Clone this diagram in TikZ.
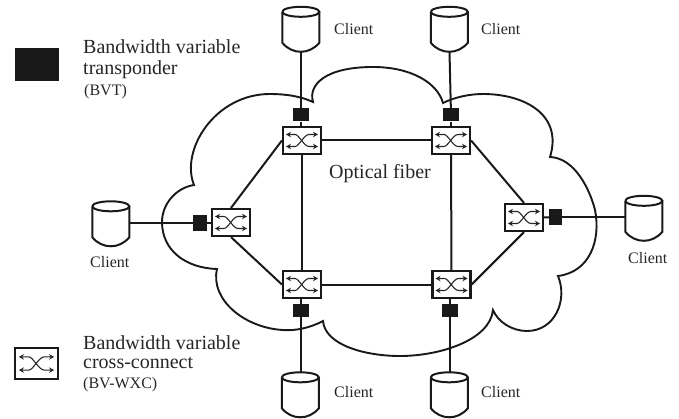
\documentclass[tikz,border=0pt]{standalone}
\usepackage{fontspec}
\setmainfont{Liberation Serif}
\usetikzlibrary{arrows.meta}
\tikzset{
  netline/.style={line width=2pt,black!90},
  cloudline/.style={line width=1.9pt,black!90},
  wxcbox/.style={draw=black!90,fill=white,line width=2.2pt,minimum width=38pt,minimum height=27pt,inner sep=0pt},
  keybox/.style={wxcbox,minimum width=43pt,minimum height=31pt},
  bvtbox/.style={fill=black!90,inner sep=0pt},
  clientbody/.style={inner sep=0pt,minimum width=37pt,minimum height=45pt},
  biglabel/.style={anchor=base west,inner sep=0pt,font=\fontsize{20}{24}\selectfont,black!85},
  smalllabel/.style={anchor=base west,inner sep=0pt,font=\fontsize{16}{19}\selectfont,black!85},
  glyphline/.style={line width=1.1pt,black!85,{Stealth[length=5pt,width=5.5pt]}-{Stealth[length=5pt,width=5.5pt]}}
}
\newcommand{\wxcglyph}[2]{
  \begin{scope}[shift={(#1.center)},scale=#2]
    \draw[glyphline] (-16,-6) -- (-7,-6) .. controls (-3,-6) and (2,6) .. (7,6) -- (16,6);
    \draw[glyphline] (-16,6) -- (-7,6) .. controls (-3,6) and (2,-6) .. (7,-6) -- (16,-6);
  \end{scope}
}
\begin{document}
\begin{tikzpicture}[x=1pt,y=-1pt]
\useasboundingbox (0,0) rectangle (679,419);
%cloud
\draw[cloudline] (194,185) .. controls (180,150) and (215,94) .. (270,94)
  .. controls (285,94) and (300,96) .. (313,102)
  .. controls (308,85) and (325,67) .. (373,67)
  .. controls (410,67) and (437,82) .. (443,103)
  .. controls (455,97) and (470,94) .. (483,94)
  .. controls (525,94) and (563,115) .. (550,157)
  .. controls (575,158) and (590,190) .. (595,210)
  .. controls (601,240) and (590,272) .. (558,276)
  .. controls (568,300) and (555,331) .. (527,331)
  .. controls (512,331) and (498,322) .. (493,310)
  .. controls (490,340) and (440,356) .. (400,356)
  .. controls (365,356) and (325,345) .. (323,321)
  .. controls (310,328) and (295,331) .. (283,330)
  .. controls (245,328) and (210,300) .. (217,269)
  .. controls (185,268) and (162,250) .. (162,222)
  .. controls (162,205) and (175,188) .. (194,185) -- cycle;
%switches
\foreach \n/\x/\y in {swTL/302/140.5,swTR/451/140.5,swL/231/222.5,swR/524/217.5,swBL/302/284.5,swBR/451.5/284.5}{
  \node[wxcbox] (\n) at (\x,\y) {};
}
\node[keybox] (swKey) at (36.5,363.5) {};
%transponders
\foreach \n/\x/\y/\w/\h in {bvtTL/301/115/16/13,bvtTR/451/115/16/13,bvtL/200/223/14/16,bvtR/555.5/217/13/16,bvtBL/301/310.5/16/13,bvtBR/449.5/310.5/16/13,bvtKey/37/64.5/44/33}{
  \node[bvtbox,minimum width=\w pt,minimum height=\h pt] (\n) at (\x,\y) {};
}
%clients
\foreach \n/\x/\y in {cliTL/301/29.5,cliTR/449.5/29.5,cliL/111/224,cliR/644/218.5,cliBL/300.5/395,cliBR/449.5/395}{
  \node[clientbody] (\n) at (\x,\y) {};
  \draw[netline] (\n.north west) ++(0,5) arc(180:-180:18.5 and 5);
  \draw[netline] (\n.north west) ++(0,5) -- ++(0,31) .. controls +(10,12) and +(-10,12) .. ++(37,0) -- ++(0,-31);
}
%fibers
\draw[netline] (swTL) -- (swTR);
\draw[netline] (swBL) -- (swBR);
\draw[netline] (swTL) -- (swBL);
\draw[netline] (swTR) -- (swBR);
\draw[netline] (swL.north) -- (swTL.west);
\draw[netline] (swL.south) -- (swBL.west);
\draw[netline] (swR.north) -- (swTR.east);
\draw[netline] (swR.south) -- (swBR.east);
%client links
\draw[netline] (cliTL.south) -- (bvtTL);
\draw[netline] (cliTR.south) -- (bvtTR);
\draw[netline] (cliL.east |- bvtL) -- (bvtL);
\draw[netline] (cliR.west |- bvtR) -- (bvtR);
\draw[netline] (cliBL.north -| bvtBL) -- (bvtBL);
\draw[netline] (cliBR.north) -- (bvtBR);
\draw[netline] (bvtTL) -- (bvtTL |- swTL.north);
\draw[netline] (bvtTR) -- (swTR.north);
\draw[netline] (bvtL) -- (swL.west |- bvtL);
\draw[netline] (bvtR) -- (swR.east);
\draw[netline] (bvtBL) -- (bvtBL |- swBL.south);
\draw[netline] (bvtBR) -- (bvtBR |- swBR.south);
%redraw so the lines stay behind
\foreach \n in {swTL,swTR,swL,swR,swBL,swBR}{
  \node[wxcbox] at (\n) {};
  \wxcglyph{\n}{1}
}
\node[keybox] at (swKey) {};
\wxcglyph{swKey}{1.1}
%Text
\node[smalllabel] (txtTL) at (334,35) {Client};
\node[smalllabel] (txtTR) at (481,35) {Client};
\node[smalllabel] (txtL) at (90,268) {Client};
\node[smalllabel] (txtR) at (628,264) {Client};
\node[smalllabel] (txtBL) at (334,397) {Client};
\node[smalllabel] (txtBR) at (481,397) {Client};
\node[biglabel] (txtFiber) at (329,179) {Optical fiber};
\node[biglabel] (txtBvtA) at (83,54) {Bandwidth variable};
\node[biglabel] (txtBvtB) at (83,75) {transponder};
\node[smalllabel] (txtBvtC) at (84,96) {(BVT)};
\node[biglabel] (txtWxcA) at (83,349) {Bandwidth variable};
\node[biglabel] (txtWxcB) at (83,368) {cross-connect};
\node[smalllabel] (txtWxcC) at (83,388) {(BV-WXC)};
\end{tikzpicture}
\end{document}
